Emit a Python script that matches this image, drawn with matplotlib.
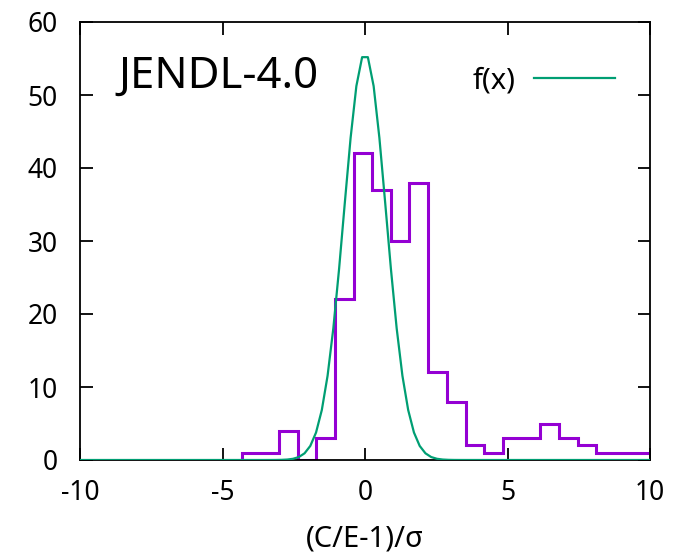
import numpy as np
import matplotlib
matplotlib.use('Agg')
import matplotlib.pyplot as plt

plt.rcParams['font.family'] = ['Noto Sans', 'DejaVu Sans']
plt.rcParams['axes.unicode_minus'] = False

# histogram of (C/E-1)/sigma
binEdges = [-4.33, -3.67, -3.02, -2.36, -1.71, -1.05, -0.40, 0.25, 0.91, 1.56,
            2.22, 2.87, 3.53, 4.18, 4.84, 5.49, 6.15, 6.80, 7.46, 8.11,
            8.77, 9.42, 10.08]
binCounts = [1, 1, 4, 0, 3, 22, 42, 37, 30, 38,
             12, 8, 2, 1, 3, 3, 5, 3, 2, 1,
             1, 1]

# fitted gaussian f(x)
fitAmp   = 55.7
fitMean  = 0.0
fitSigma = 0.74
nSamples = 100

purple = '#9400D3'
green  = '#009E73'


def f(x, a, b, c):
	return a * np.exp(-(x - b)**2 / (2 * c**2))


fig = plt.figure(figsize=(6.79, 5.54), dpi=100)
ax = fig.add_axes([80/679, 1 - 460/554, 570/679, 438/554])

xs = np.linspace(-10, 10, nSamples)
ax.plot(xs, f(xs, fitAmp, fitMean, fitSigma), '-', color=green, linewidth=1.6, label='f(x)', zorder=3)
ax.stairs(binCounts, binEdges, baseline=0, color=purple, linewidth=2.2, zorder=2)

ax.set_xlim(-10, 10)
ax.set_ylim(0, 60)
ax.set_xticks([-10, -5, 0, 5, 10])
ax.set_yticks([0, 10, 20, 30, 40, 50, 60])
ax.tick_params(direction='in', length=9, width=1.3, top=True, right=True, labelsize=19)
ax.tick_params(axis='x', pad=14)
ax.tick_params(axis='y', pad=16)
for sp in ax.spines.values():
	sp.set_linewidth(1.3)

ax.set_xlabel('(C/E-1)/σ', fontsize=21, labelpad=12)
ax.text(0.068, 0.875, 'JENDL-4.0', transform=ax.transAxes, fontsize=31.5, va='center', ha='left')

ax.legend(loc='upper right', bbox_to_anchor=(0.985, 0.958), frameon=False, fontsize=21,
          handlelength=2.8, handletextpad=0.6, markerfirst=False)

plt.savefig('out.png', dpi=100)
